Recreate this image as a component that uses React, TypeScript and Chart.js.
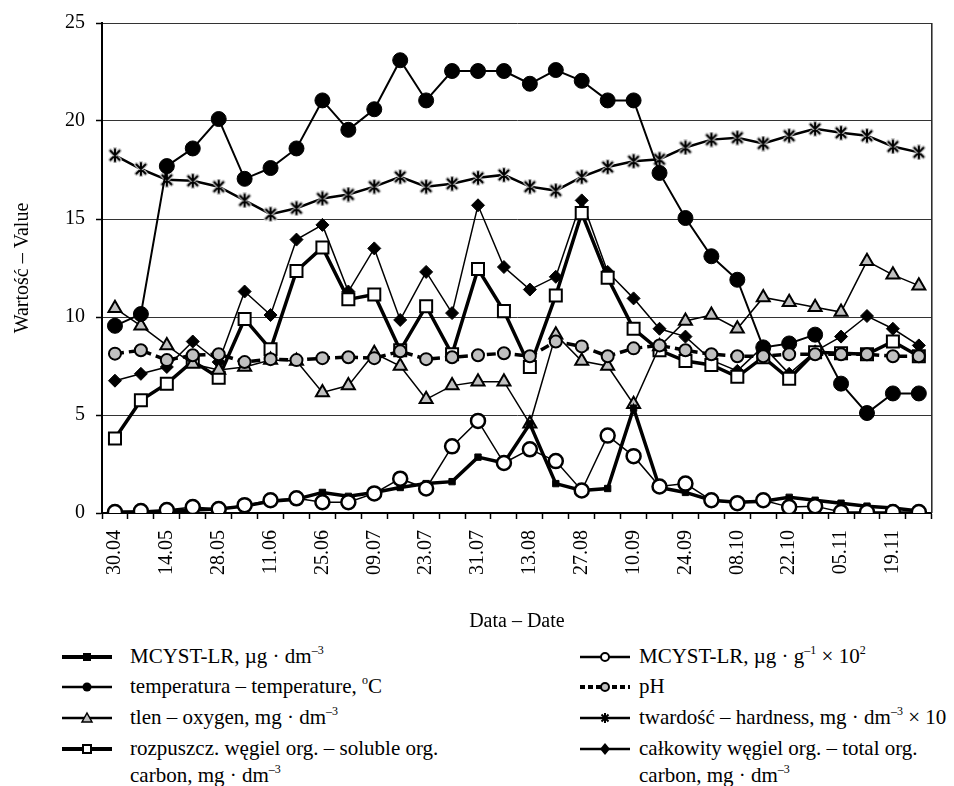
import React, { useEffect, useRef } from 'react';
import { Chart, registerables } from 'chart.js';

Chart.register(...registerables);

// ---- data ----
const tickLabels = ['30.04', '14.05', '28.05', '11.06', '25.06', '09.07', '23.07', '31.07', '13.08', '27.08', '10.09', '24.09', '08.10', '22.10', '05.11', '19.11'];
const categories = tickLabels.flatMap((l) => [l, '']);

const mcystDm = [0.05, 0.05, 0.1, 0.15, 0.2, 0.35, 0.6, 0.7, 1.05, 0.85, 1.05, 1.3, 1.5, 1.6, 2.85, 2.55, 4.55, 1.5, 1.15, 1.25, 5.35, 1.3, 1.05, 0.65, 0.55, 0.6, 0.8, 0.65, 0.5, 0.35, 0.25, 0.1];
const mcystG = [0.05, 0.1, 0.15, 0.3, 0.2, 0.4, 0.65, 0.75, 0.55, 0.55, 1.0, 1.75, 1.25, 3.4, 4.7, 2.55, 3.25, 2.65, 1.15, 3.95, 2.9, 1.35, 1.5, 0.65, 0.5, 0.65, 0.3, 0.35, 0.05, 0.05, 0.05, 0.05];
const temperature = [9.55, 10.15, 17.7, 18.6, 20.1, 17.05, 17.6, 18.6, 21.05, 19.55, 20.6, 23.1, 21.05, 22.55, 22.55, 22.55, 21.9, 22.6, 22.05, 21.05, 21.05, 17.35, 15.05, 13.1, 11.9, 8.45, 8.65, 9.1, 6.6, 5.1, 6.1, 6.1];
const oxygen = [10.45, 9.55, 8.55, 7.6, 7.3, 7.45, 7.8, 7.75, 6.15, 6.5, 8.15, 7.5, 5.8, 6.5, 6.7, 6.7, 4.55, 9.1, 7.75, 7.5, 5.55, 8.5, 9.8, 10.1, 9.4, 11.0, 10.75, 10.5, 10.25, 12.85, 12.15, 11.6];
const solubleC = [3.8, 5.75, 6.6, 7.75, 6.9, 9.9, 8.35, 12.35, 13.55, 10.9, 11.15, 8.3, 10.55, 8.1, 12.45, 10.3, 7.45, 11.1, 15.3, 12.0, 9.4, 8.3, 7.75, 7.55, 6.95, 7.95, 6.85, 8.2, 8.15, 8.1, 8.75, 8.0];
const pH = [8.13, 8.3, 7.8, 8.05, 8.1, 7.7, 7.85, 7.8, 7.9, 7.95, 7.9, 8.25, 7.85, 7.95, 8.05, 8.15, 8.0, 8.75, 8.5, 8.0, 8.4, 8.55, 8.3, 8.1, 8.0, 8.0, 8.1, 8.1, 8.1, 8.1, 8.0, 8.0];
const hardness = [18.25, 17.55, 17.0, 16.95, 16.65, 15.95, 15.25, 15.55, 16.05, 16.25, 16.65, 17.15, 16.65, 16.8, 17.1, 17.25, 16.65, 16.45, 17.15, 17.65, 17.95, 18.05, 18.65, 19.05, 19.15, 18.85, 19.25, 19.6, 19.4, 19.25, 18.7, 18.4];
const totalC = [6.75, 7.1, 7.45, 8.75, 7.7, 11.3, 10.1, 13.95, 14.7, 11.3, 13.5, 9.85, 12.3, 10.2, 15.7, 12.55, 11.4, 12.05, 15.95, 12.3, 10.95, 9.4, 9.0, 7.8, 7.25, 8.5, 7.1, 8.25, 9.0, 10.05, 9.4, 8.55];

const yTicks = [0, 5, 10, 15, 20, 25];

const FONT = '"Liberation Serif", "Times New Roman", serif';
const GRAY = '#c0c0c0';

function makeStar(): HTMLCanvasElement {
  const c = document.createElement('canvas');
  c.width = 16;
  c.height = 16;
  const g = c.getContext('2d')!;
  const draw = () => {
    g.beginPath();
    g.moveTo(3.5, 3.5); g.lineTo(12.5, 12.5);
    g.moveTo(12.5, 3.5); g.lineTo(3.5, 12.5);
    g.moveTo(8, 2); g.lineTo(8, 14);
    g.stroke();
  };
  g.lineCap = 'round';
  g.strokeStyle = '#c8c8c8';
  g.lineWidth = 4.5;
  draw();
  g.strokeStyle = '#000';
  g.lineWidth = 2;
  draw();
  return c;
}

const framePlugin = {
  id: 'frame',
  beforeDatasetsDraw(chart: any) {
    const { ctx, chartArea } = chart;
    ctx.save();
    ctx.strokeStyle = '#222';
    ctx.lineWidth = 1.5;
    ctx.beginPath();
    ctx.moveTo(chartArea.right, chartArea.top);
    ctx.lineTo(chartArea.right, chartArea.bottom);
    ctx.stroke();
    ctx.restore();
  },
};

function ChartCanvas() {
  const ref = useRef<HTMLCanvasElement | null>(null);
  useEffect(() => {
    if (!ref.current) return;
    const star = makeStar();
    const base = { borderColor: '#000', pointBorderColor: '#000', tension: 0, fill: false };
    const chart = new Chart(ref.current, {
      type: 'line',
      data: {
        labels: categories,
        datasets: [
          { ...base, label: 'MCYST-LR, µg·g-1 ×10²', data: mcystG, order: 0, borderWidth: 1.5, pointStyle: 'circle', pointRadius: 7, pointBorderWidth: 2.5, pointBackgroundColor: '#fff' },
          { ...base, label: 'pH', data: pH, order: 1, borderWidth: 3.5, borderDash: [9, 5], pointStyle: 'circle', pointRadius: 6, pointBorderWidth: 2, pointBackgroundColor: GRAY },
          { ...base, label: 'MCYST-LR, µg·dm-3', data: mcystDm, order: 2, borderWidth: 3.5, pointStyle: 'rect', pointRadius: 4.5, pointBorderWidth: 1, pointBackgroundColor: '#000' },
          { ...base, label: 'temperatura', data: temperature, order: 3, borderWidth: 2, pointStyle: 'circle', pointRadius: 7.5, pointBorderWidth: 1, pointBackgroundColor: '#000' },
          { ...base, label: 'tlen', data: oxygen, order: 4, borderWidth: 1.5, pointStyle: 'triangle', pointRadius: 7.5, pointBorderWidth: 2, pointBackgroundColor: GRAY },
          { ...base, label: 'rozpuszcz. węgiel', data: solubleC, order: 5, borderWidth: 3.5, pointStyle: 'rect', pointRadius: 8.5, pointBorderWidth: 2, pointBackgroundColor: '#fff' },
          { ...base, label: 'całkowity węgiel', data: totalC, order: 6, borderWidth: 1.5, pointStyle: 'rectRot', pointRadius: 6.5, pointBorderWidth: 1, pointBackgroundColor: '#000' },
          { ...base, label: 'twardość', data: hardness, order: 7, borderWidth: 2.5, pointStyle: star as any, pointRadius: 8 },
        ],
      },
      options: {
        responsive: false,
        animation: false,
        devicePixelRatio: 1,
        layout: { padding: { top: 22, right: 5, left: 0, bottom: 0 } },
        plugins: { legend: { display: false }, tooltip: { enabled: false } },
        scales: {
          x: {
            type: 'category',
            offset: true,
            afterFit: (s: any) => { s.height = 127; },
            grid: { display: true, drawOnChartArea: false, drawTicks: true, tickLength: 6, offset: true, tickColor: '#000', tickWidth: 1.5 },
            border: { display: true, color: '#000', width: 2 },
            ticks: { autoSkip: false, maxRotation: 90, minRotation: 90, padding: 11, color: '#000', font: { family: FONT, size: 20 } },
            title: { display: true, text: 'Data – Date', color: '#000', font: { family: FONT, size: 20 }, padding: { top: 0, bottom: 6 } },
          },
          y: {
            min: 0,
            max: 25,
            afterFit: (s: any) => { s.width = 102; },
            afterBuildTicks: (s: any) => { s.ticks = yTicks.map((v) => ({ value: v })); },
            grid: { color: '#333', lineWidth: 1, drawTicks: true, tickLength: 6, tickColor: '#000', tickWidth: 1.5 },
            border: { display: true, color: '#000', width: 2 },
            ticks: { padding: 11, color: '#000', font: { family: FONT, size: 20 } },
            title: { display: true, text: 'Wartość – Value', color: '#000', font: { family: FONT, size: 20 }, padding: { top: 11, bottom: 0 } },
          },
        },
      },
      plugins: [framePlugin],
    });
    return () => chart.destroy();
  }, []);
  return <canvas ref={ref} width={954} height={640} style={{ display: 'block', position: 'absolute', left: 0, top: 0 }} />;
}

type Kind = 'mcystDm' | 'temp' | 'oxygen' | 'soluble' | 'mcystG' | 'ph' | 'hard' | 'total';

function Marker({ kind }: { kind: Kind }) {
  const thick = kind === 'mcystDm' || kind === 'soluble' || kind === 'ph';
  const y = 8;
  let mark: React.ReactNode = null;
  if (kind === 'mcystDm') mark = <rect x={21} y={4} width={8} height={8} fill="#000" />;
  if (kind === 'temp') mark = <circle cx={25} cy={y} r={4.5} fill="#000" />;
  if (kind === 'oxygen') mark = <polygon points="25,3 30,12 20,12" fill={GRAY} stroke="#000" strokeWidth={1.5} />;
  if (kind === 'soluble') mark = <rect x={21} y={4} width={8} height={8} fill="#fff" stroke="#000" strokeWidth={2} />;
  if (kind === 'mcystG') mark = <circle cx={25} cy={y} r={4} fill="#fff" stroke="#000" strokeWidth={2} />;
  if (kind === 'ph') mark = <circle cx={25} cy={y} r={4} fill={GRAY} stroke="#000" strokeWidth={2} />;
  if (kind === 'hard') mark = <path d="M21.5,4.5 L28.5,11.5 M28.5,4.5 L21.5,11.5 M25,3 L25,13" stroke="#000" strokeWidth={2} />;
  if (kind === 'total') mark = <polygon points="25,2 30,8 25,14 20,8" fill="#000" />;
  return (
    <svg width={50} height={16} style={{ position: 'absolute', left: 0, top: 0 }}>
      <line x1={0} y1={y} x2={50} y2={y} stroke="#000" strokeWidth={thick ? 4 : 2.5} strokeDasharray={kind === 'ph' ? '5 3' : undefined} />
      {mark}
    </svg>
  );
}

const sup = (t: string) => <sup style={{ fontSize: 12, verticalAlign: 'baseline', position: 'relative', top: -9 }}>{t}</sup>;

function LegendRow({ x, y, tx, kind, children }: { x: number; y: number; tx: number; kind: Kind; children: React.ReactNode }) {
  return (
    <>
      <div style={{ position: 'absolute', left: x, top: y - 8, width: 50, height: 16 }}>
        <Marker kind={kind} />
      </div>
      <div style={{ position: 'absolute', left: tx, top: y - 14, fontFamily: FONT, fontSize: 21, lineHeight: '27px', whiteSpace: 'nowrap', color: '#000' }}>
        {children}
      </div>
    </>
  );
}

export default function App() {
  const rows = [657, 687, 718, 749];
  const L = 62;
  const R = 580;
  const LT = 130;
  const RT = 639;
  return (
    <div style={{ position: 'absolute', left: 0, top: 0, width: 954, height: 786, background: '#fff', overflow: 'hidden' }}>
      <ChartCanvas />
      <LegendRow x={L} tx={LT} y={rows[0]} kind="mcystDm">MCYST-LR, µg · dm{sup('–3')}</LegendRow>
      <LegendRow x={L} tx={LT} y={rows[1]} kind="temp">temperatura – temperature, {sup('o')}C</LegendRow>
      <LegendRow x={L} tx={LT} y={rows[2]} kind="oxygen">tlen – oxygen, mg · dm{sup('–3')}</LegendRow>
      <LegendRow x={L} tx={LT} y={rows[3]} kind="soluble">rozpuszcz. węgiel org. – soluble org.<br />carbon, mg · dm{sup('–3')}</LegendRow>
      <LegendRow x={R} tx={RT} y={rows[0]} kind="mcystG">MCYST-LR, µg · g{sup('–1')} × 10{sup('2')}</LegendRow>
      <LegendRow x={R} tx={RT} y={rows[1]} kind="ph">pH</LegendRow>
      <LegendRow x={R} tx={RT} y={rows[2]} kind="hard">twardość – hardness, mg · dm{sup('–3')} × 10</LegendRow>
      <LegendRow x={R} tx={RT} y={rows[3]} kind="total">całkowity węgiel org. – total org.<br />carbon, mg · dm{sup('–3')}</LegendRow>
    </div>
  );
}
